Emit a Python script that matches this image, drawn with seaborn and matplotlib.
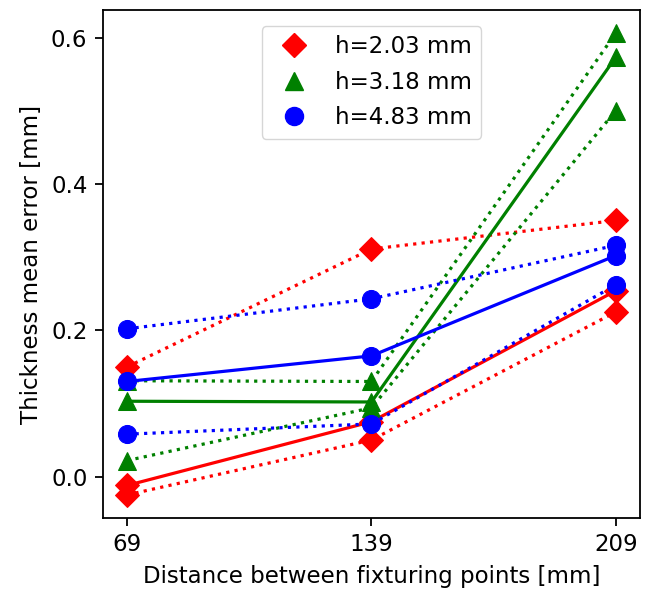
import matplotlib
matplotlib.use("Agg")
import matplotlib.pyplot as plt
from matplotlib.lines import Line2D
import seaborn as sns
import pandas as pd

# ---- data ----
distances = [69, 139, 209]
labels = ["h=2.03 mm", "h=3.18 mm", "h=4.83 mm"]

red_mean = [-0.012, 0.075, 0.254]
red_upper = [0.150, 0.311, 0.350]
red_lower = [-0.025, 0.050, 0.225]

green_mean = [0.103, 0.102, 0.573]
green_upper = [0.131, 0.130, 0.606]
green_lower = [0.022, 0.094, 0.500]

blue_mean = [0.130, 0.165, 0.302]
blue_upper = [0.202, 0.243, 0.316]
blue_lower = [0.058, 0.072, 0.262]

xlabel = "Distance between fixturing points [mm]"
ylabel = "Thickness mean error [mm]"

colors = ["red", "green", "blue"]
markers = ["D", "^", "o"]
series = [
    (red_mean, red_upper, red_lower),
    (green_mean, green_upper, green_lower),
    (blue_mean, blue_upper, blue_lower),
]

FS = 16.5
plt.rcParams["font.family"] = ["DejaVu Sans"]
plt.rcParams["font.size"] = FS

fig = plt.figure(figsize=(6.46, 5.92), dpi=100)
ax = fig.add_axes([0.159, 0.125, 0.832, 0.858])

def msize(m):
    return 12 if m == "D" else 13

for (mean, upper, lower), c, m in zip(series, colors, markers):
    for vals, ls in ((upper, ":"), (lower, ":"), (mean, "-")):
        df = pd.DataFrame({"x": distances, "y": vals})
        sns.lineplot(data=df, x="x", y="y", ax=ax, color=c, marker=m,
                     markersize=msize(m), markeredgecolor=c,
                     linestyle=ls, linewidth=2.3, errorbar=None, legend=False)

ax.set_xticks(distances)
ax.set_xticklabels([str(d) for d in distances])
ax.set_yticks([0.0, 0.2, 0.4, 0.6])
ax.set_xlabel(xlabel, fontsize=FS, labelpad=6)
ax.set_ylabel(ylabel, fontsize=FS, labelpad=6)
ax.tick_params(labelsize=FS, length=6, width=1.3, pad=5)
for sp in ax.spines.values():
    sp.set_linewidth(1.3)

handles = [Line2D([], [], color=c, marker=m, linestyle="None",
                  markersize=msize(m))
           for c, m in zip(colors, markers)]
ax.legend(handles, labels, loc="upper center", fontsize=FS,
          labelspacing=0.55, borderaxespad=0.7)

fig.savefig("out.png", dpi=100)
